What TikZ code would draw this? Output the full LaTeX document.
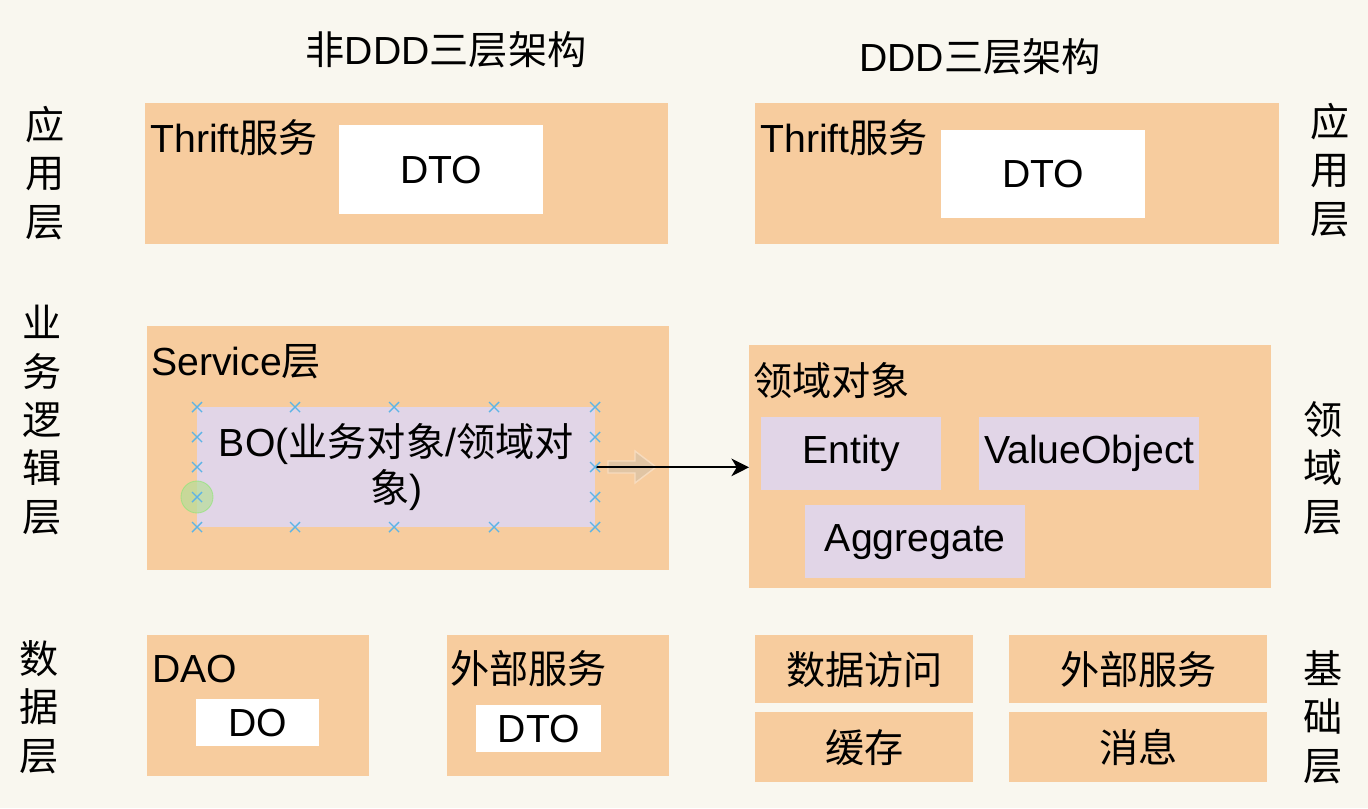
\documentclass[tikz,border=0pt]{standalone}
\usepackage{fontspec}
\setmainfont{Liberation Sans}
\newfontfamily\cjk{Noto Sans CJK SC}
\usepackage{xcolor}
\usepackage{tikz}
\usetikzlibrary{arrows.meta, positioning}
\definecolor{paperbg}{HTML}{F9F7EF}
\definecolor{layerorange}{HTML}{F7CC9E}
\definecolor{objlilac}{HTML}{E1D5E7}
\definecolor{handleblue}{HTML}{5DB4E6}
\definecolor{pinggreen}{HTML}{B5DE98}
\definecolor{ghostarrow}{HTML}{DCC4A6}
\newcommand\mainsize{\fontsize{22.3}{26}\selectfont}
\newcommand\sidesize{\fontsize{22.3}{27.5}\selectfont}

\tikzset{
  wh/.style 2 args={minimum width=#1*0.02cm, minimum height=#2*0.02cm},
  layerbox/.style={fill=layerorange, anchor=north west, inner sep=0pt},
  objbox/.style={fill=objlilac, anchor=north west, inner sep=0pt, font=\mainsize},
  dtobox/.style={fill=white, anchor=north west, inner sep=0pt, font=\mainsize},
  boxlabel/.style={anchor=west, inner sep=0pt, font=\mainsize},
  sidelabel/.style={align=center, inner sep=0pt, font=\cjk\sidesize},
  handle/.style={handleblue, line width=0.8pt}
}

\begin{document}
\begin{tikzpicture}[x=0.02cm, y=-0.02cm]

    % =================================================================
    % LAYER 0: PAPER
    % =================================================================
    \fill[paperbg] (0,0) rectangle (1368,808);
    \useasboundingbox (0,0) rectangle (1368,808);

    % =================================================================
    % LAYER 1: TITLES AND SIDE LABELS
    % =================================================================
    \node[font=\mainsize] (titleL) at (446,50) {{\cjk 非}DDD{\cjk 三层架构}};
    \node[font=\mainsize] (titleR) at (980,57) {DDD{\cjk 三层架构}};

    \node[sidelabel] (sideAppL)  at (45,173)  {应\\用\\层};
    \node[sidelabel] (sideBizL)  at (42,420)  {业\\务\\逻\\辑\\层};
    \node[sidelabel] (sideDataL) at (39,707)  {数\\据\\层};
    \node[sidelabel] (sideAppR)  at (1330,170) {应\\用\\层};
    \node[sidelabel] (sideDomR)  at (1323,468) {领\\域\\层};
    \node[sidelabel] (sideInfR)  at (1323,717) {基\\础\\层};

    % =================================================================
    % LAYER 2: NON-DDD COLUMN
    % =================================================================
    \node[layerbox, wh={523}{141}] (appL) at (145,103) {};
    \node[boxlabel] at (150,138) {Thrift{\cjk 服务}};
    \node[dtobox, wh={204}{89}] (dtoAppL) at (339,125) {DTO};

    \node[layerbox, wh={522}{244}] (service) at (147,326) {};
    \node[boxlabel] at (151,362) {Service{\cjk 层}};
    \node[objbox, wh={398}{120}, align=center] (bo) at (197,407)
        {BO({\cjk 业务对象}/{\cjk 领域对}\\{\cjk 象})};

    \node[layerbox, wh={222}{141}] (dao) at (147,635) {};
    \node[boxlabel] at (152,669) {DAO};
    \node[dtobox, wh={123}{47}] (doL) at (196,699) {DO};

    \node[layerbox, wh={222}{141}] (extL) at (447,635) {};
    \node[boxlabel, font=\cjk\mainsize] at (450,669) {外部服务};
    \node[dtobox, wh={125}{47}] (dtoExtL) at (476,705) {DTO};

    % =================================================================
    % LAYER 3: DDD COLUMN
    % =================================================================
    \node[layerbox, wh={524}{141}] (appR) at (755,103) {};
    \node[boxlabel] at (760,138) {Thrift{\cjk 服务}};
    \node[dtobox, wh={204}{88}] (dtoAppR) at (941,130) {DTO};

    \node[layerbox, wh={522}{243}] (domain) at (749,345) {};
    \node[boxlabel, font=\cjk\mainsize] at (753,381) {领域对象};
    \node[objbox, wh={180}{73}] (entity) at (761,417) {Entity};
    \node[objbox, wh={220}{73}] (valobj) at (979,417) {ValueObject};
    \node[objbox, wh={220}{73}] (aggr) at (805,505) {Aggregate};

    \node[layerbox, wh={218}{68}, font=\cjk\mainsize] (dataAcc) at (755,635) {数据访问};
    \node[layerbox, wh={218}{70}, font=\cjk\mainsize] (cache) at (755,712) {缓存};
    \node[layerbox, wh={258}{68}, font=\cjk\mainsize] (extR) at (1009,635) {外部服务};
    \node[layerbox, wh={258}{70}, font=\cjk\mainsize] (msg) at (1009,712) {消息};

    % =================================================================
    % LAYER 4: CONNECTOR AND EDITOR MARKS
    % =================================================================
    \fill[ghostarrow, opacity=0.8, draw=layerorange!60!white, line width=0.8pt]
        (608,461) -- (635,461) -- (635,451) -- (656,467) -- (635,483)
        -- (635,473) -- (608,473) -- cycle;
    \draw[line width=1.1pt, -{Stealth[length=10pt, width=10pt, inset=3pt]}]
        (bo.east) -- (bo.east -| domain.west);

    \fill[pinggreen, opacity=0.7, draw=pinggreen!80!green, line width=0.5pt]
        (197,497) circle (0.32cm);
    \foreach \hx in {197,295,394,494,595}{
        \draw[handle] (\hx,407) +(-5,-5) -- +(5,5) +(-5,5) -- +(5,-5);
        \draw[handle] (\hx,527) +(-5,-5) -- +(5,5) +(-5,5) -- +(5,-5);
    }
    \foreach \hy in {437,467,497}{
        \draw[handle] (197,\hy) +(-5,-5) -- +(5,5) +(-5,5) -- +(5,-5);
        \draw[handle] (595,\hy) +(-5,-5) -- +(5,5) +(-5,5) -- +(5,-5);
    }

\end{tikzpicture}
\end{document}
